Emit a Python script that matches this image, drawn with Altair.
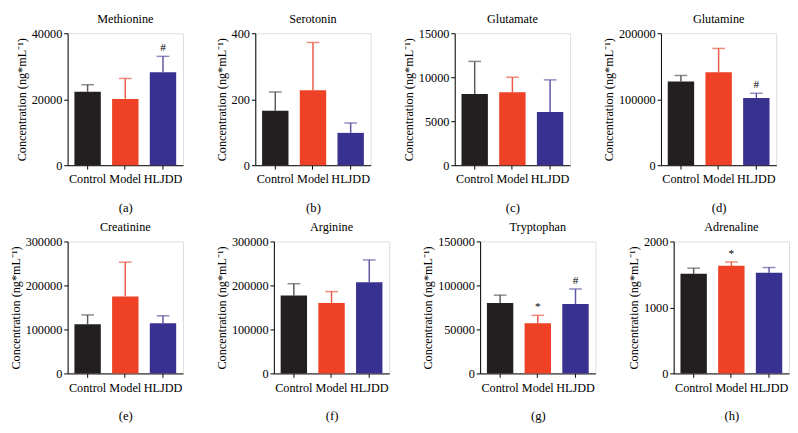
import altair as alt
import pandas as pd

groups = ["Control", "Model", "HLJDD"]
bar_colors = ["#231f20", "#ee4125", "#393190"]
err_colors = ["#5a5a5a", "#ea5a44", "#5d58a3"]

titles = ["Methionine", "Serotonin", "Glutamate", "Glutamine",
          "Creatinine", "Arginine", "Tryptophan", "Adrenaline"]
captions = ["(a)", "(b)", "(c)", "(d)", "(e)", "(f)", "(g)", "(h)"]

means = [
    [22300, 20100, 28200],
    [165, 227, 98],
    [8100, 8300, 6050],
    [127000, 141000, 102000],
    [112000, 175000, 114000],
    [177000, 160000, 207000],
    [80000, 57000, 79000],
    [1510, 1630, 1525],
]
uppers = [
    [24400, 26300, 33000],
    [222, 372, 128],
    [11800, 10000, 9700],
    [136000, 177000, 109000],
    [133000, 253000, 131000],
    [204000, 186000, 258000],
    [89000, 66000, 96000],
    [1595, 1690, 1605],
]
marks = [
    ["", "", "#"],
    ["", "", ""],
    ["", "", ""],
    ["", "", "#"],
    ["", "", ""],
    ["", "", ""],
    ["", "*", "#"],
    ["", "*", ""],
]
y_max = [40000, 400, 15000, 200000, 300000, 300000, 150000, 2000]
y_step = [10000, 100, 5000, 50000, 100000, 100000, 50000, 500]

FONT = "Liberation Serif"
W, H = 118, 135


def panel(i):
    df = pd.DataFrame({
        "group": groups,
        "mean": means[i],
        "upper": uppers[i],
        "mark": marks[i],
        "bc": bar_colors,
        "ec": err_colors,
    })
    xenc = alt.X(
        "group:N", sort=groups,
        scale=alt.Scale(paddingInner=0.3, paddingOuter=0.18),
        axis=alt.Axis(title=captions[i], labelAngle=0, labelAlign="center",
                      labelBaseline="top", labelFont=FONT, labelFontSize=12.5,
                      labelColor="black", titleFont=FONT, titleFontSize=13,
                      titleFontWeight="normal", titleColor="black", titlePadding=17,
                      tickSize=4, tickColor="black", domainColor="black",
                      labelPadding=4, tickWidth=1, domainWidth=1),
    )
    ticks = list(range(0, y_max[i] + 1, y_step[i]))
    yscale = alt.Scale(domain=[0, y_max[i]], nice=False)
    yenc = alt.Y(
        "mean:Q", scale=yscale,
        axis=alt.Axis(title="Concentration (ng*mL⁻¹)", values=ticks, grid=False,
                      format="d",
                      labelFont=FONT, labelFontSize=12.5, labelColor="black",
                      titleFont=FONT, titleFontSize=12.5, titleFontWeight="normal",
                      titleColor="black", titlePadding=3, tickSize=4,
                      tickColor="black", domainColor="black", labelPadding=2,
                      tickWidth=1, domainWidth=1),
    )
    base = alt.Chart(df)
    bars = base.mark_bar().encode(x=xenc, y=yenc, color=alt.Color("bc:N", scale=None))
    err = base.mark_rule(strokeWidth=1.5).encode(
        x=alt.X("group:N", sort=groups), y=alt.Y("mean:Q"), y2="upper:Q",
        color=alt.Color("ec:N", scale=None))
    cap = base.mark_tick(thickness=1.5, size=13, orient="horizontal").encode(
        x=alt.X("group:N", sort=groups), y=alt.Y("upper:Q"),
        color=alt.Color("ec:N", scale=None))
    txt = base.mark_text(font=FONT, fontSize=11.5, baseline="bottom", dy=-3,
                         color="black").encode(
        x=alt.X("group:N", sort=groups), y=alt.Y("upper:Q"), text="mark:N")
    return alt.layer(err, bars, cap, txt).properties(
        width=W, height=H,
        title=alt.TitleParams(titles[i], font=FONT, fontSize=12.5, fontWeight="normal",
                              color="black", offset=2),
    )


row1 = alt.hconcat(*[panel(i) for i in range(4)], spacing=31)
row2 = alt.hconcat(*[panel(i) for i in range(4, 8)], spacing=31)
chart = alt.vconcat(row1, row2, spacing=6).properties(padding=0).configure_view(
    stroke=None).configure(background="white")

chart.save("out.html", embed_options={"renderer": "svg", "actions": False})
